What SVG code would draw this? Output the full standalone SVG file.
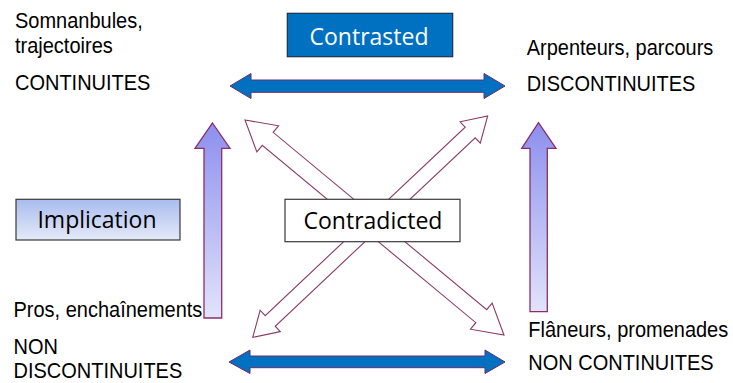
<svg xmlns="http://www.w3.org/2000/svg" width="733" height="383" viewBox="0 0 733 383">
<defs>
<linearGradient id="vgrad" x1="0" y1="0" x2="0" y2="1">
<stop offset="0" stop-color="#8c8fee"/>
<stop offset="1" stop-color="#e2e3fa"/>
</linearGradient>
<linearGradient id="boxgrad" x1="0" y1="0" x2="0" y2="1">
<stop offset="0" stop-color="#a9bcee"/>
<stop offset="1" stop-color="#e4eaf8"/>
</linearGradient>
</defs>
<style>
.lbl{font-family:"Liberation Sans",Arial,sans-serif;font-size:21.5px;fill:#000}
.box{font-family:"Open Sans","Liberation Sans",sans-serif;font-size:23px}
.dbl{fill:#0070c0;stroke:#6a2d6a;stroke-width:1}
.vert{fill:url(#vgrad);stroke:#8b2f6b;stroke-width:1.3}
.hollow{fill:#fff;stroke:#8b3a66;stroke-width:1.1}
</style>

<g id="connectors">
<path id="top-double" class="dbl" d="M230,86 L251,73.5 L251,80 L484,80 L484,73.5 L505,86 L484,98.5 L484,92.3 L251,92.3 L251,98.5 Z"/>
<path id="bottom-double" class="dbl" d="M229,362 L250,350 L250,356 L485,356 L485,350 L505,362 L485,373.5 L485,367.7 L250,367.7 L250,373.5 Z"/>
<path id="left-up" class="vert" d="M212.5,123 L230,148.3 L221.7,148.3 L221.7,318 L204,318 L204,148.3 L195,148.3 Z"/>
<path id="right-up" class="vert" d="M538.5,122.7 L556,148.3 L547.3,148.3 L547.3,311.7 L530,311.7 L530,148.3 L521.7,148.3 Z"/>
<path id="diag-a" class="hollow" transform="translate(374.5,227.5) rotate(39.7)" d="M-168.3,0 L-138.8,-17 L-138.8,-8.5 L138.8,-8.5 L138.8,-17 L168.3,0 L138.8,17 L138.8,8.5 L-138.8,8.5 L-138.8,17 Z"/>
<path id="diag-b" class="hollow" transform="translate(370.2,226.7) rotate(-43.3)" d="M-161.4,0 L-137.4,-14.7 L-137.4,-7.3 L137.4,-7.3 L137.4,-14.7 L161.4,0 L137.4,14.7 L137.4,7.3 L-137.4,7.3 L-137.4,14.7 Z"/>
</g>

<g id="contrasted">
<rect x="287.3" y="13.3" width="165.4" height="43.4" fill="#0070c0" stroke="#1f3050" stroke-width="1.2"/>
<text class="box" x="369" y="45" text-anchor="middle" fill="#fff">Contrasted</text>
</g>

<g id="implication">
<rect x="16" y="199.3" width="164" height="40.7" fill="url(#boxgrad)" stroke="#3a3a3a" stroke-width="1.2"/>
<text class="box" x="97" y="227.5" text-anchor="middle" fill="#000">Implication</text>
</g>

<g id="contradicted">
<rect x="285" y="199.3" width="175" height="42.4" fill="#fff" stroke="#3a3a3a" stroke-width="1.2"/>
<text class="box" x="373" y="228.5" text-anchor="middle" fill="#000">Contradicted</text>
</g>

<g id="top-left" transform="scale(0.9302,1)">
<text class="lbl" x="16.13" y="28.3">Somnanbules,</text>
<text class="lbl" x="16.13" y="53.3">trajectoires</text>
<text class="lbl" x="16.13" y="90.5">CONTINUITES</text>
</g>

<g id="top-right" transform="scale(0.9302,1)">
<text class="lbl" x="566.2" y="55">Arpenteurs, parcours</text>
<text class="lbl" x="566.2" y="91.5">DISCONTINUITES</text>
</g>

<g id="bottom-left" transform="scale(0.9302,1)">
<text class="lbl" x="14.51" y="317.3">Pros, enchaînements</text>
<text class="lbl" x="14.51" y="354">NON</text>
<text class="lbl" x="14.51" y="378.5">DISCONTINUITES</text>
</g>

<g id="bottom-right" transform="scale(0.9302,1)">
<text class="lbl" x="567.9" y="337.3">Flâneurs, promenades</text>
<text class="lbl" x="567.9" y="370">NON CONTINUITES</text>
</g>
</svg>
